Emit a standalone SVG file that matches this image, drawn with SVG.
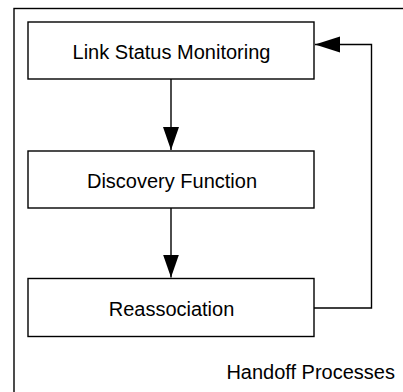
<svg xmlns="http://www.w3.org/2000/svg" width="403" height="392" viewBox="0 0 403 392">
<style>
.box{fill:#fff;stroke:#000;stroke-width:1.4}
.lbl{font-family:"Liberation Sans",Arial,sans-serif;font-size:20px;fill:#000}
.conn{fill:none;stroke:#000;stroke-width:1.4}
</style>
<defs>
<marker id="ah" markerUnits="userSpaceOnUse" markerWidth="26" markerHeight="18" refX="23" refY="8" orient="auto">
<path d="M0,0 L23,8 L0,16 Z" fill="#000"/>
</marker>
<marker id="ah2" markerUnits="userSpaceOnUse" markerWidth="28" markerHeight="18" refX="25" refY="8" orient="auto">
<path d="M0,0 L25,8 L0,16 Z" fill="#000"/>
</marker>
</defs>
<rect id="frame" x="14" y="8.5" width="400" height="400" fill="none" stroke="#000" stroke-width="1.4"/>
<g id="n1"><rect class="box" x="28" y="22" width="286" height="57"/><text class="lbl" x="171.5" y="58.5" text-anchor="middle">Link Status Monitoring</text></g>
<g id="n2"><rect class="box" x="28" y="151" width="286" height="57"/><text class="lbl" x="172" y="187.5" text-anchor="middle">Discovery Function</text></g>
<g id="n3"><rect class="box" x="28" y="278.5" width="286" height="58"/><text class="lbl" x="171.5" y="315.5" text-anchor="middle">Reassociation</text></g>
<g id="connectors">
<line class="conn" x1="171" y1="79" x2="171" y2="150" marker-end="url(#ah)"/>
<line class="conn" x1="171" y1="208" x2="171" y2="277.5" marker-end="url(#ah)"/>
<polyline class="conn" points="314,308 371.5,308 371.5,44.5 315,44.5" marker-end="url(#ah2)"/>
</g>
<text class="lbl" x="395" y="378.5" text-anchor="end">Handoff Processes</text>
</svg>
